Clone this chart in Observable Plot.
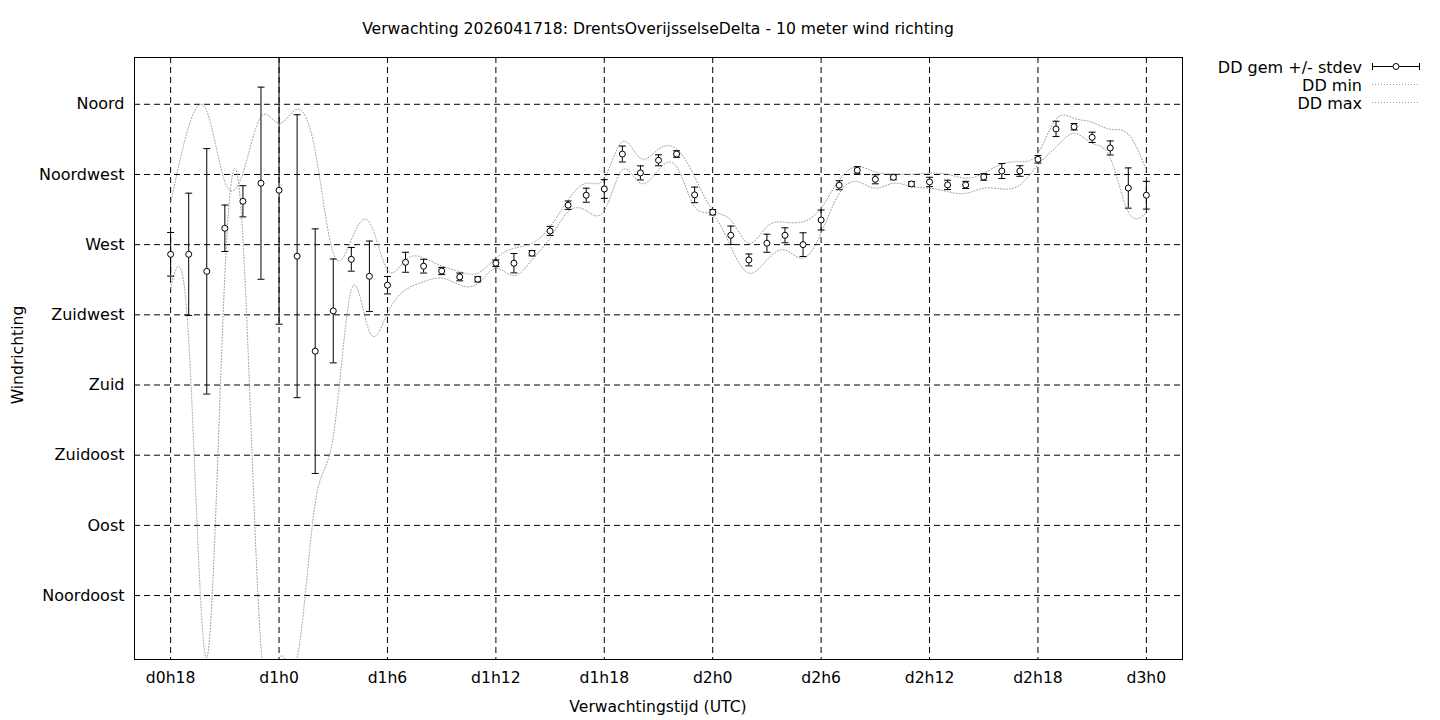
<!DOCTYPE html>
<html>
<head>
<meta charset="utf-8">
<script src="https://cdn.jsdelivr.net/npm/d3@7"></script>
<script src="https://cdn.jsdelivr.net/npm/@observablehq/plot@0.6"></script>
<style>
  html, body { margin: 0; padding: 0; background: #fff; }
  #wrap { position: relative; width: 1440px; height: 720px; font-family: "DejaVu Sans", sans-serif; color: #000; overflow: hidden; }
  .title { position: absolute; left: 134px; width: 1048px; top: 20px; text-align: center; font-size: 15.6px; line-height: 18px; white-space: nowrap; }
  .xlabel { position: absolute; left: 134px; width: 1048px; top: 698px; text-align: center; font-size: 15.6px; line-height: 18px; }
  .ylabel { position: absolute; left: 18px; top: 355px; transform: translate(-50%, -50%) rotate(-90deg); font-size: 15.6px; line-height: 18px; white-space: nowrap; }
  .legend { position: absolute; left: 1180px; top: 55px; }
</style>
</head>
<body>
<div id="wrap">
  <div class="title">Verwachting 2026041718: DrentsOverijsselseDelta - 10 meter wind richting</div>
  <div class="xlabel">Verwachtingstijd (UTC)</div>
  <div class="ylabel">Windrichting</div>
  <svg class="legend" width="260" height="60" font-family="DejaVu Sans" font-size="16">
    <text x="182" y="12" dy="0.35em" text-anchor="end">DD gem +/- stdev</text>
    <line x1="192" x2="240" y1="11.5" y2="11.5" stroke="black"/>
    <line x1="192.5" x2="192.5" y1="8" y2="15" stroke="black"/>
    <line x1="239.5" x2="239.5" y1="8" y2="15" stroke="black"/>
    <circle cx="216" cy="11.5" r="3" fill="white" stroke="black"/>
    <text x="182" y="30" dy="0.35em" text-anchor="end">DD min</text>
    <line x1="192" x2="240" y1="29.5" y2="29.5" stroke="#999" stroke-dasharray="1,2"/>
    <text x="182" y="48" dy="0.35em" text-anchor="end">DD max</text>
    <line x1="192" x2="240" y1="47.5" y2="47.5" stroke="#999" stroke-dasharray="1,2"/>
  </svg>
</div>
<script>
// forecast hour (hours since d0h0)
const hours = [18,19,20,21,22,23,24,25,26,27,28,29,30,31,32,33,34,35,36,37,38,39,40,41,42,43,44,45,
  46,47,48,49,50,51,52,53,54,55,56,57,58,59,60,61,62,63,64,65,66,67,68,69,70,71,72];
// mean wind direction (degrees)
const ddMean = [263.8,263.8,252.9,280.5,297.8,309.4,304.9,262.6,201.7,227.5,260.6,249.7,244.0,258.7,
  256.2,253.1,249.3,247.8,258.1,258.1,264.5,278.8,295.3,301.7,305.7,328.1,316.0,324.1,328.1,301.9,
  290.8,276.0,260.2,270.9,276.0,270.0,285.8,308.1,317.7,311.9,313.2,308.9,310.2,308.3,308.3,313.4,
  317.2,317.2,324.7,344.2,345.6,338.8,332.0,306.3,301.7];
// standard deviation (degrees)
const ddStdev = [14.0,39.2,78.7,14.9,10.0,61.6,85.9,90.7,78.4,33.3,7.6,22.6,5.6,6.4,4.4,2.3,2.5,1.7,
  2.1,6.2,1.7,2.9,2.7,4.5,6.0,5.1,4.5,3.5,2.1,5.0,1.7,5.9,3.8,5.8,4.8,7.6,6.4,2.9,2.3,2.9,1.6,1.6,
  3.0,3.0,2.3,2.1,4.8,3.4,2.4,4.9,2.1,3.3,4.5,12.9,8.9];
// minimum direction (degrees)
const ddMin = [242.1,209.0,5.0,250.0,274.1,12.0,5.0,5.0,104.2,146.9,241.0,214.2,226.0,241.0,246.3,
  248.5,244.2,245.0,254.9,250.0,260.2,274.1,291.2,291.8,291.8,317.9,309.4,317.9,320.0,294.4,289.0,
  268.7,251.7,260.2,266.6,261.3,277.3,302.9,310.4,306.2,309.4,307.2,306.2,304.0,302.9,306.2,305.7,
  308.3,321.1,332.6,341.4,335.0,325.6,291.0,290.5];
// maximum direction (degrees)
const ddMax = [296.7,345.6,355.7,310.4,315.8,352.1,347.8,356.8,330.0,264.5,273.0,284.4,253.8,260.2,
  261.5,256.3,252.7,251.7,261.3,267.7,270.9,281.5,298.7,309.4,312.6,336.0,325.4,331.2,331.3,313.6,
  292.6,285.8,270.9,281.5,284.4,284.7,293.5,311.5,320.0,316.6,315.3,315.1,315.8,315.1,312.6,315.8,
  321.7,323.2,328.6,350.6,351.0,348.5,344.0,340.8,317.9];

const xTicks = [18,24,30,36,42,48,54,60,66,72];
const xTickLabels = ["d0h18","d1h0","d1h6","d1h12","d1h18","d2h0","d2h6","d2h12","d2h18","d3h0"];
const yTicks = [360,315,270,225,180,135,90,45];
const yTickLabels = ["Noord","Noordwest","West","Zuidwest","Zuid","Zuidoost","Oost","Noordoost"];

const data = hours.map((h, i) => ({
  h, mean: ddMean[i], lo: ddMean[i] - ddStdev[i], hi: ddMean[i] + ddStdev[i],
  min: ddMin[i], max: ddMax[i]
}));

const capSymbol = {
  draw(ctx, size) {
    const w = Math.sqrt(size / Math.PI);
    ctx.moveTo(-w, 0);
    ctx.lineTo(w, 0);
  }
};

const grid = {stroke: "black", strokeOpacity: 1, strokeWidth: 1, strokeDasharray: "6,4"};
const dotted = {stroke: "#999", strokeWidth: 1, strokeDasharray: "1,2", curve: "natural", clip: true};

const chart = Plot.plot({
  width: 1440,
  height: 720,
  marginTop: 57,
  marginBottom: 61,
  marginLeft: 134,
  marginRight: 258,
  style: {fontFamily: "DejaVu Sans", fontSize: "15.6px", color: "black", background: "transparent"},
  x: {type: "linear", domain: [16, 74], axis: null},
  y: {type: "linear", domain: [4, 390], axis: null},
  marks: [
    Plot.ruleX(xTicks, {x: d => d, ...grid}),
    Plot.ruleY(yTicks, {y: d => d, ...grid}),
    Plot.axisX({ticks: xTicks, anchor: "bottom", tickSize: 0, tickPadding: 12, fontSize: 15.6,
      tickFormat: d => xTickLabels[xTicks.indexOf(d)], label: null}),
    Plot.axisY({ticks: yTicks, anchor: "left", tickSize: 0, tickPadding: 10, fontSize: 16,
      tickFormat: d => yTickLabels[yTicks.indexOf(d)], label: null}),
    Plot.line(data, {x: "h", y: "min", ...dotted}),
    Plot.line(data, {x: "h", y: "max", ...dotted}),
    Plot.ruleX(data, {x: "h", y1: "lo", y2: "hi", stroke: "black", strokeWidth: 1, clip: true}),
    Plot.dot(data, {x: "h", y: "lo", symbol: capSymbol, r: 3.5, stroke: "black", strokeWidth: 1, clip: true}),
    Plot.dot(data, {x: "h", y: "hi", symbol: capSymbol, r: 3.5, stroke: "black", strokeWidth: 1, clip: true}),
    Plot.dot(data, {x: "h", y: "mean", r: 3, fill: "white", stroke: "black", strokeWidth: 1}),
    Plot.frame({stroke: "black", strokeWidth: 1})
  ]
});
chart.style.position = "absolute";
chart.style.left = "0px";
chart.style.top = "0px";
document.getElementById("wrap").prepend(chart);
</script>
</body>
</html>
